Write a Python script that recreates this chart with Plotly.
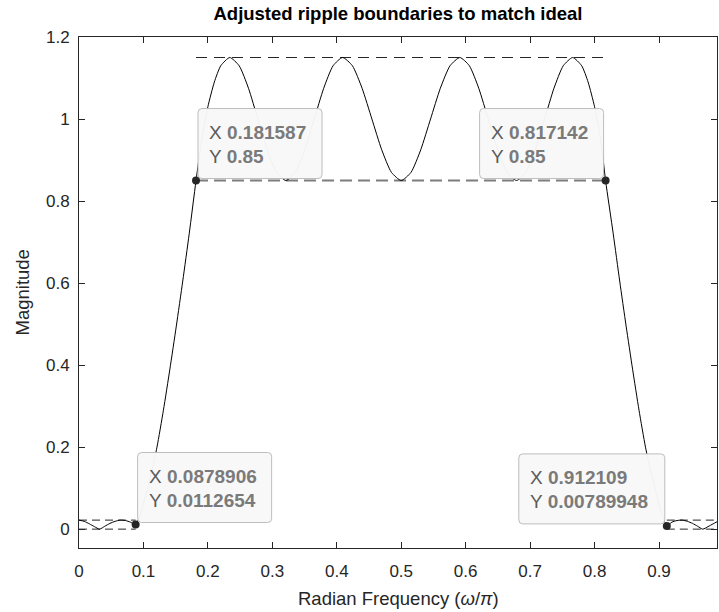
import plotly.graph_objects as go

# ---------------- data ----------------
freq = [0.0, 0.008, 0.016, 0.024, 0.032, 0.04, 0.048, 0.056, 0.064, 0.072, 0.08, 0.0879,
        0.095, 0.103, 0.112, 0.121, 0.131, 0.141, 0.151, 0.161, 0.171, 0.1816,
        0.19, 0.20, 0.21, 0.22, 0.234,
        0.2485, 0.263, 0.2775, 0.292, 0.3065, 0.321,
        0.3357, 0.3503, 0.365, 0.3797, 0.3943, 0.409,
        0.4242, 0.4393, 0.4545, 0.4697, 0.4848, 0.5,
        0.5152, 0.5303, 0.5455, 0.5607, 0.5758, 0.591,
        0.6057, 0.6203, 0.635, 0.6497, 0.6643, 0.679,
        0.6935, 0.708, 0.7225, 0.737, 0.7515, 0.766,
        0.78, 0.79, 0.80, 0.81, 0.8171,
        0.829, 0.839, 0.849, 0.859, 0.869, 0.879, 0.888, 0.897, 0.905, 0.9121,
        0.92, 0.928, 0.936, 0.944, 0.952, 0.96, 0.968, 0.976, 0.984, 0.99]
mag = [0.022, 0.019, 0.013, 0.006, 0.0, 0.007, 0.014, 0.019, 0.022, 0.021, 0.017, 0.0113,
       0.035, 0.08, 0.135, 0.2, 0.29, 0.39, 0.495, 0.605, 0.72, 0.85,
       0.945, 1.03, 1.09, 1.13, 1.15,
       1.13, 1.075, 1.0, 0.925, 0.87, 0.85,
       0.87, 0.925, 1.0, 1.075, 1.13, 1.15,
       1.13, 1.075, 1.0, 0.925, 0.87, 0.85,
       0.87, 0.925, 1.0, 1.075, 1.13, 1.15,
       1.13, 1.075, 1.0, 0.925, 0.87, 0.85,
       0.87, 0.925, 1.0, 1.075, 1.13, 1.15,
       1.13, 1.09, 1.03, 0.945, 0.85,
       0.72, 0.605, 0.495, 0.39, 0.29, 0.2, 0.135, 0.08, 0.035, 0.0079,
       0.017, 0.021, 0.022, 0.019, 0.014, 0.007, 0.0, 0.006, 0.013, 0.018]

pass_lo, pass_hi = 0.181587, 0.817142
stop_lo, stop_hi = 0.0878906, 0.912109
pass_upper, pass_lower = 1.15, 0.85
stop_upper, stop_lower = 0.022, 0.0
x_end = 0.99

tip_x = [0.0878906, 0.181587, 0.817142, 0.912109]
tip_y = [0.0112654, 0.85, 0.85, 0.00789948]
tip_xtext = ["0.0878906", "0.181587", "0.817142", "0.912109"]
tip_ytext = ["0.0112654", "0.85", "0.85", "0.00789948"]

x_ticks = [0, 0.1, 0.2, 0.3, 0.4, 0.5, 0.6, 0.7, 0.8, 0.9]
x_ticklabels = ["0", "0.1", "0.2", "0.3", "0.4", "0.5", "0.6", "0.7", "0.8", "0.9"]
y_ticks = [0, 0.2, 0.4, 0.6, 0.8, 1.0, 1.2]
y_ticklabels = ["0", "0.2", "0.4", "0.6", "0.8", "1", "1.2"]

# ---------------- styles ----------------
AX = "#262626"
FONT = "Liberation Sans, Arial, Helvetica, sans-serif"
tip_side = ["right", "right", "left", "left"]
tip_w = [134, 124, 124, 146]
tip_h = 70

fig = go.Figure()

# passband boundaries
fig.add_trace(go.Scatter(x=[pass_lo, pass_hi], y=[pass_upper, pass_upper], mode="lines",
                         line=dict(color=AX, width=1, dash="11px,7px"), hoverinfo="skip"))
fig.add_trace(go.Scatter(x=[pass_lo, pass_hi], y=[pass_lower, pass_lower], mode="lines",
                         line=dict(color="#7d7d7d", width=2, dash="12px,6px"), hoverinfo="skip"))
# stopband boundaries
for xs in ([0, stop_lo], [stop_hi, x_end]):
    for yv in (stop_upper, stop_lower):
        fig.add_trace(go.Scatter(x=xs, y=[yv, yv], mode="lines",
                                 line=dict(color=AX, width=1, dash="8px,5px"), hoverinfo="skip"))

# response
fig.add_trace(go.Scatter(x=freq, y=mag, mode="lines",
                         line=dict(color="black", width=1, shape="spline", smoothing=0.6),
                         hoverinfo="skip"))

# data tip dots
fig.add_trace(go.Scatter(x=tip_x, y=tip_y, mode="markers",
                         marker=dict(color=AX, size=8), hoverinfo="skip"))

shapes = []
annotations = []


def rrect(x0, x1, y0, y1, r=4):
    return (f"M {x0+r},{y0} L {x1-r},{y0} Q {x1},{y0} {x1},{y0+r} "
            f"L {x1},{y1-r} Q {x1},{y1} {x1-r},{y1} L {x0+r},{y1} "
            f"Q {x0},{y1} {x0},{y1-r} L {x0},{y0+r} Q {x0},{y0} {x0+r},{y0} Z")


for i in range(len(tip_x)):
    if tip_side[i] == "right":
        bx0, bx1 = 2, 2 + tip_w[i]
    else:
        bx0, bx1 = -2 - tip_w[i], -2
    shapes.append(dict(type="path", xref="x", yref="y", xsizemode="pixel", ysizemode="pixel",
                       xanchor=tip_x[i], yanchor=tip_y[i],
                       path=rrect(bx0, bx1, 2, 2 + tip_h),
                       fillcolor="rgba(248,248,248,0.97)", line=dict(color="#bdbdbd", width=1),
                       layer="above"))
    for lab, val, dy in (("X", tip_xtext[i], 48), ("Y", tip_ytext[i], 24)):
        annotations.append(dict(x=tip_x[i], y=tip_y[i], xref="x", yref="y", showarrow=False,
                                xanchor="left", yanchor="middle", xshift=bx0 + 9, yshift=dy,
                                text=f"<span style='color:#5a5a5a'>{lab}</span> "
                                     f"<b>{val}</b>",
                                font=dict(family=FONT, size=19, color="#7a7a7a")))

# axis titles
annotations.append(dict(xref="paper", yref="paper", x=0.5, y=0, yshift=-50, showarrow=False,
                        xanchor="center", yanchor="middle",
                        text="Radian Frequency (<i>ω</i>/<i>π</i>)",
                        font=dict(family=FONT, size=18.5, color=AX)))
annotations.append(dict(xref="paper", yref="paper", x=0, y=0.5, xshift=-57, showarrow=False,
                        xanchor="center", yanchor="middle", textangle=-90,
                        text="Magnitude", font=dict(family=FONT, size=18.5, color=AX)))

fig.update_layout(
    width=719, height=612,
    margin=dict(l=79, r=2, t=37, b=64),
    paper_bgcolor="white", plot_bgcolor="white",
    showlegend=False,
    title=dict(text="<b>Adjusted ripple boundaries to match ideal</b>",
               x=0.5, xref="paper", xanchor="center",
               y=1 - 14 / 612, yref="container", yanchor="middle",
               font=dict(family=FONT, size=18.5, color="black")),
    shapes=shapes,
    annotations=annotations,
)
fig.update_xaxes(range=[0, x_end], tickvals=x_ticks, ticktext=x_ticklabels,
                 showgrid=False, zeroline=False, showline=True, linecolor=AX, linewidth=1,
                 mirror="ticks", ticks="inside", ticklen=6, tickcolor=AX,
                 ticklabelstandoff=8,
                 tickfont=dict(family=FONT, size=17, color=AX))
fig.update_yaxes(range=[-0.046, 1.2], tickvals=y_ticks, ticktext=y_ticklabels,
                 showgrid=False, zeroline=False, showline=True, linecolor=AX, linewidth=1,
                 mirror="ticks", ticks="inside", ticklen=6, tickcolor=AX,
                 ticklabelstandoff=5,
                 tickfont=dict(family=FONT, size=17, color=AX))

fig.write_html("out.html")
